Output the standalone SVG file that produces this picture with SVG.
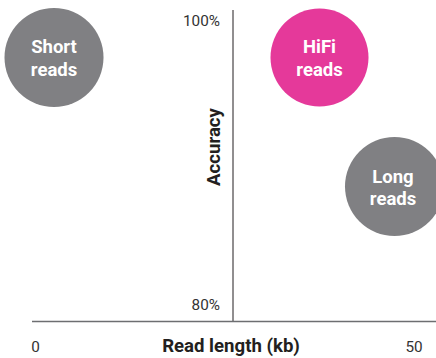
<svg xmlns="http://www.w3.org/2000/svg" width="436" height="358" viewBox="0 0 436 358">
<style>
.lbl{font-family:Roboto,"Liberation Sans",sans-serif;font-size:18.5px;font-weight:bold;fill:#fff;text-anchor:middle}
.tick{font-family:Roboto,"Liberation Sans",sans-serif;font-size:15.3px;fill:#333}
.ax{font-family:Roboto,"Liberation Sans",sans-serif;font-size:18.6px;font-weight:bold;fill:#231f20;text-anchor:middle}
.grey{fill:#808083}
</style>
<rect width="436" height="358" fill="#fff"/>
<g id="axes">
<line x1="233" y1="10" x2="233" y2="322" stroke="#231f20" stroke-width="1"/>
<line x1="32" y1="321.5" x2="436" y2="321.5" stroke="#6d6e71" stroke-width="1.3"/>
<text class="tick" x="220" y="26" text-anchor="end">100%</text>
<text class="tick" x="220" y="310" text-anchor="end">80%</text>
<text class="tick" x="35.5" y="352" text-anchor="middle">0</text>
<text class="tick" x="414" y="352" text-anchor="middle">50</text>
<text class="ax" x="231" y="352">Read length (kb)</text>
<text class="ax" transform="translate(220,147) rotate(-90)">Accuracy</text>
</g>
<g id="short">
<circle class="grey" cx="54" cy="57.5" r="49.5"/>
<text class="lbl" x="54" y="53">Short</text>
<text class="lbl" x="54" y="76">reads</text>
</g>
<g id="hifi">
<circle cx="319.5" cy="57.5" r="49" fill="#e5399a"/>
<text class="lbl" x="319.5" y="53">HiFi</text>
<text class="lbl" x="319.5" y="76">reads</text>
</g>
<g id="long">
<circle class="grey" cx="394.5" cy="186.5" r="49.5"/>
<text class="lbl" x="393" y="183">Long</text>
<text class="lbl" x="393" y="205">reads</text>
</g>
</svg>
